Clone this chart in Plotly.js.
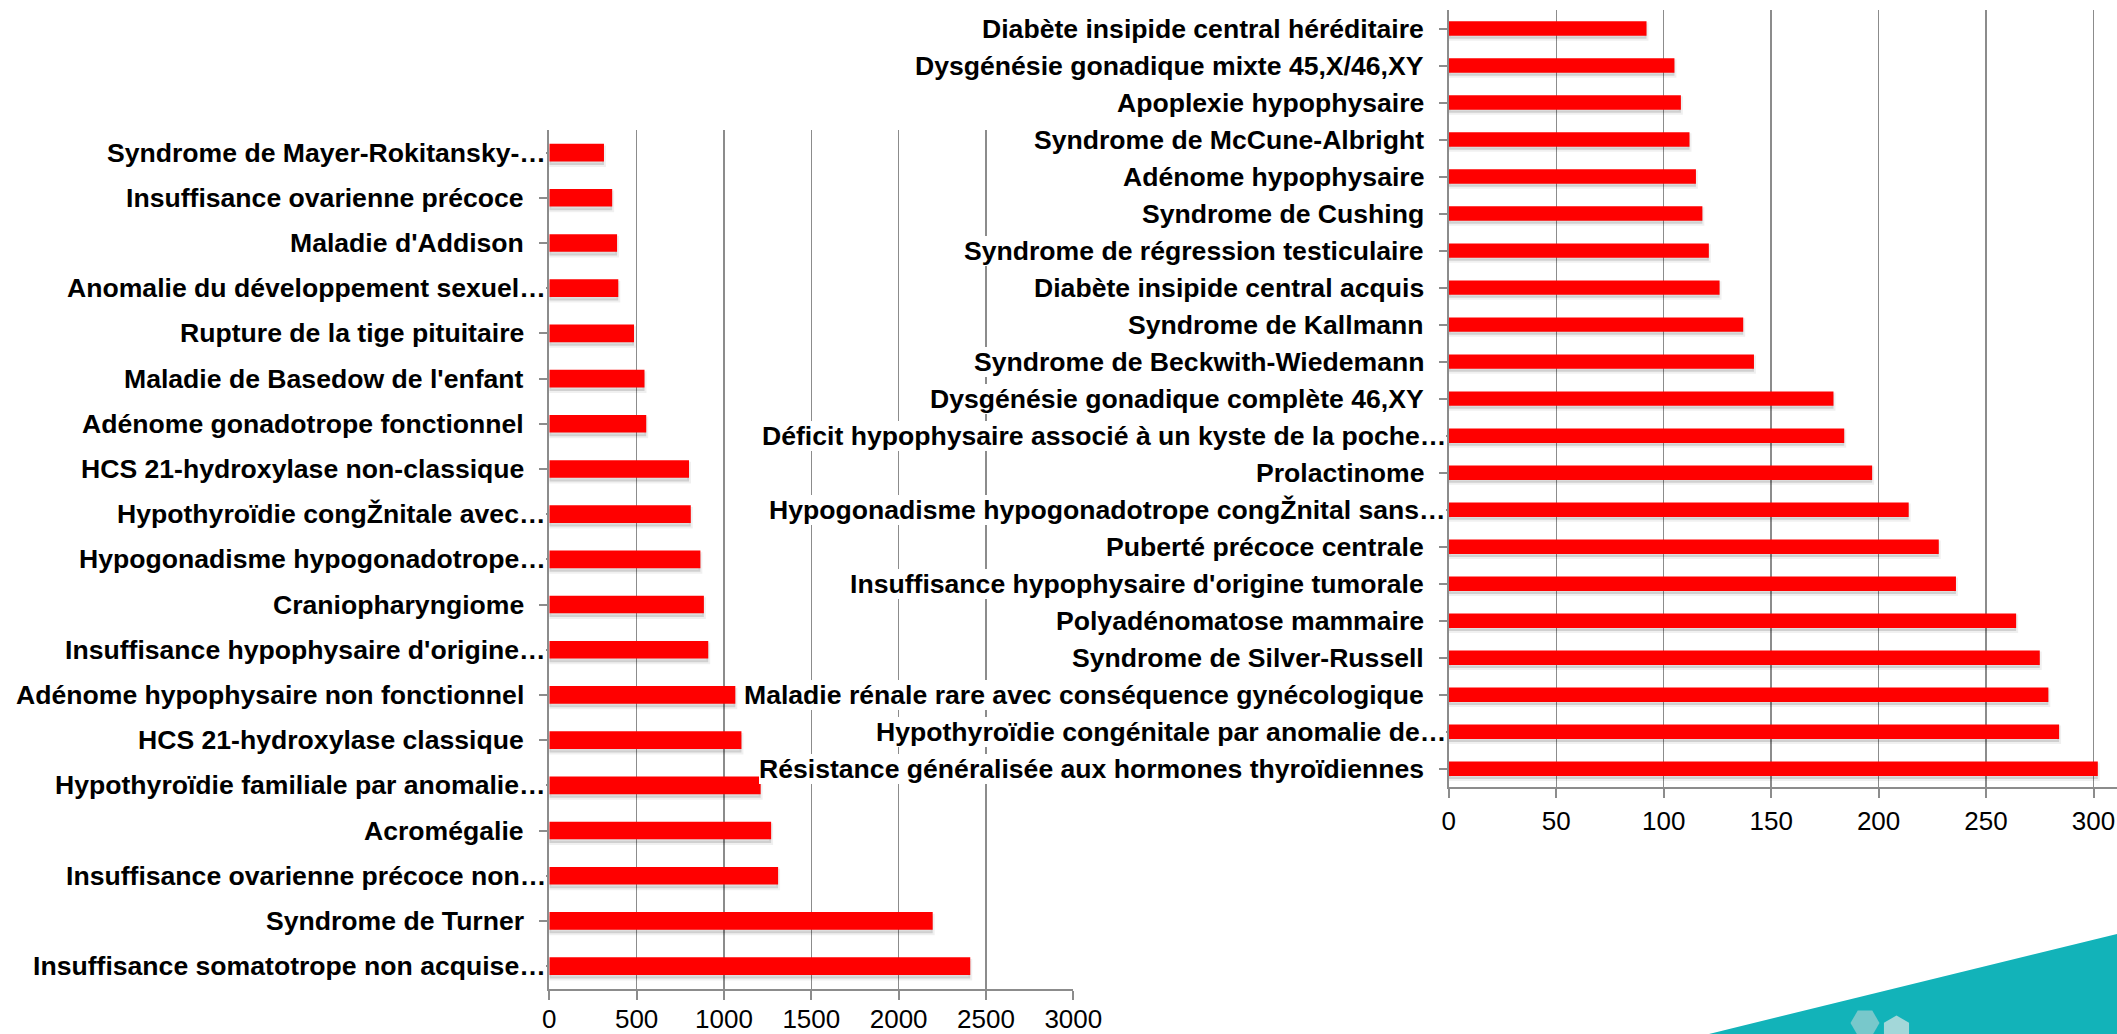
<!DOCTYPE html>
<html>
<head>
<meta charset="utf-8">
<script src="https://cdn.plot.ly/plotly-3.0.1.min.js"></script>
<style>html,body{margin:0;padding:0;overflow:hidden;background:#fff}</style>
</head>
<body>
<div id="chart" style="width:2117px;height:1034px"></div>
<script>
// ---- Data (top to bottom as displayed) ----
const leftLabels = [
  "Syndrome de Mayer-Rokitansky-…",
  "Insuffisance ovarienne précoce",
  "Maladie d'Addison",
  "Anomalie du développement sexuel…",
  "Rupture de la tige pituitaire",
  "Maladie de Basedow de l'enfant",
  "Adénome gonadotrope fonctionnel",
  "HCS 21-hydroxylase non-classique",
  "Hypothyroïdie congŽnitale avec…",
  "Hypogonadisme hypogonadotrope…",
  "Craniopharyngiome",
  "Insuffisance hypophysaire d'origine…",
  "Adénome hypophysaire non fonctionnel",
  "HCS 21-hydroxylase classique",
  "Hypothyroïdie familiale par anomalie…",
  "Acromégalie",
  "Insuffisance ovarienne précoce non…",
  "Syndrome de Turner",
  "Insuffisance somatotrope non acquise…"
];
const leftValues = [313, 360, 388, 395, 485, 545, 555, 800, 810, 865, 885, 910, 1065, 1100, 1210, 1270, 1310, 2195, 2410];

const rightLabels = [
  "Diabète insipide central héréditaire",
  "Dysgénésie gonadique mixte 45,X/46,XY",
  "Apoplexie hypophysaire",
  "Syndrome de McCune-Albright",
  "Adénome hypophysaire",
  "Syndrome de Cushing",
  "Syndrome de régression testiculaire",
  "Diabète insipide central acquis",
  "Syndrome de Kallmann",
  "Syndrome de Beckwith-Wiedemann",
  "Dysgénésie gonadique complète 46,XY",
  "Déficit hypophysaire associé à un kyste de la poche…",
  "Prolactinome",
  "Hypogonadisme hypogonadotrope congŽnital sans…",
  "Puberté précoce centrale",
  "Insuffisance hypophysaire d'origine tumorale",
  "Polyadénomatose mammaire",
  "Syndrome de Silver-Russell",
  "Maladie rénale rare avec conséquence gynécologique",
  "Hypothyroïdie congénitale par anomalie de…",
  "Résistance généralisée aux hormones thyroïdiennes"
];
const rightValues = [92, 105, 108, 112, 115, 118, 121, 126, 137, 142, 179, 184, 197, 214, 228, 236, 264, 275, 279, 284, 302];

const leftTicks = [0, 500, 1000, 1500, 2000, 2500, 3000];
const rightTicks = [0, 50, 100, 150, 200, 250, 300];

// ---- Styling ----
const W = 2117, H = 1034;
const FONT = "Liberation Sans, Arial, Helvetica, sans-serif";
const GRID = "#8c8c8c";
const RED = "#ff0000";
const BARW = 0.39;
const LABEL_SIZE = 26.6;

const leftDom = { x: [549.3 / W, 1073.3 / W], y: [(H - 988.7) / H, (H - 130) / H] };
const rightDom = { x: [1448.8 / W, 1], y: [(H - 787.3) / H, (H - 10) / H] };

function barTraces(vals, labels, xa, ya) {
  const idx = labels.map((_, i) => i);
  return [
    { type: "bar", orientation: "h", x: vals, y: idx, xaxis: xa, yaxis: ya,
      width: BARW, offset: -BARW / 2 + 0.08,
      marker: { color: "rgba(0,0,0,0.13)", line: { color: "rgba(0,0,0,0.06)", width: 4 } },
      hoverinfo: "skip", showlegend: false },
    { type: "bar", orientation: "h", x: vals, y: idx, xaxis: xa, yaxis: ya,
      width: BARW, offset: -BARW / 2,
      marker: { color: RED, line: { width: 0 } },
      showlegend: false }
  ];
}

function xAxis(dom, range, ticks, anchor, standoff) {
  return {
    domain: dom, range: range, anchor: anchor, tickvals: ticks, ticktext: ticks.map(String),
    showgrid: true, gridcolor: GRID, gridwidth: 1.5, zeroline: false,
    showline: true, linecolor: GRID, linewidth: 2,
    ticks: "outside", ticklen: 9, tickwidth: 2, tickcolor: GRID,
    ticklabelstandoff: standoff,
    tickfont: { family: FONT, size: 26, color: "#000" }, fixedrange: true
  };
}
function yAxis(dom, n, anchor) {
  return {
    domain: dom, anchor: anchor, range: [n - 0.5, -0.5],
    tickvals: Array.from({ length: n }, (_, i) => i), ticktext: Array(n).fill(""),
    tickson: "boundaries", showticklabels: false,
    showgrid: false, zeroline: false,
    showline: true, linecolor: GRID, linewidth: 2,
    ticks: "outside", ticklen: 8, tickwidth: 2, tickcolor: GRID, fixedrange: true
  };
}

function labelAnnots(labels, xPaper, yref) {
  return labels.map((t, i) => ({
    text: t, x: xPaper, xref: "paper", y: i, yref: yref,
    xanchor: "right", yanchor: "middle", showarrow: false,
    xshift: t.endsWith("…") ? -3 : -25,
    bgcolor: "#ffffff", borderpad: 0, borderwidth: 0,
    font: { family: FONT, size: LABEL_SIZE, color: "#000", weight: "bold" }
  }));
}

// decorative corner (px -> paper)
const px = (x) => (x / W).toFixed(5);
const py = (y) => ((H - y) / H).toFixed(5);
function hexPath(cx, cy, r, rot) {
  let d = "";
  for (let k = 0; k < 6; k++) {
    const a = (Math.PI / 3) * k + rot;
    d += (k ? " L " : "M ") + px(cx + r * Math.cos(a)) + " " + py(cy + r * Math.sin(a));
  }
  return d + " Z";
}
const shapes = [
  { type: "path", xref: "paper", yref: "paper", layer: "below",
    path: `M ${px(1709)} ${py(1034)} L ${px(2117)} ${py(934)} L ${px(2117)} ${py(1034)} Z`,
    fillcolor: "#12b3b9", line: { width: 0 } },
  { type: "path", xref: "paper", yref: "paper", layer: "below",
    path: hexPath(1865, 1023, 14.5, 0), fillcolor: "#78c8cb", line: { width: 0 } },
  { type: "path", xref: "paper", yref: "paper", layer: "below",
    path: hexPath(1896.5, 1030, 14.5, Math.PI / 6), fillcolor: "#a3d7d9", line: { width: 0 } }
];

const data = [].concat(
  barTraces(leftValues, leftLabels, "x", "y"),
  barTraces(rightValues, rightLabels, "x2", "y2")
);

const layout = {
  width: W, height: H,
  margin: { l: 0, r: 0, t: 0, b: 0, pad: 0 },
  paper_bgcolor: "#ffffff", plot_bgcolor: "rgba(0,0,0,0)",
  barmode: "overlay", showlegend: false, hovermode: false,
  font: { family: FONT },
  xaxis: xAxis(leftDom.x, [0, 3000], leftTicks, "y", -3),
  yaxis: yAxis(leftDom.y, leftLabels.length, "x"),
  xaxis2: xAxis(rightDom.x, [0, (W - 1448.8) / ((2093.5 - 1448.8) / 300)], rightTicks, "y2", 0),
  yaxis2: yAxis(rightDom.y, rightLabels.length, "x2"),
  annotations: labelAnnots(leftLabels, leftDom.x[0], "y").concat(labelAnnots(rightLabels, rightDom.x[0], "y2")),
  shapes: shapes
};

Plotly.newPlot("chart", data, layout, { staticPlot: true, displayModeBar: false });
</script>
</body>
</html>
